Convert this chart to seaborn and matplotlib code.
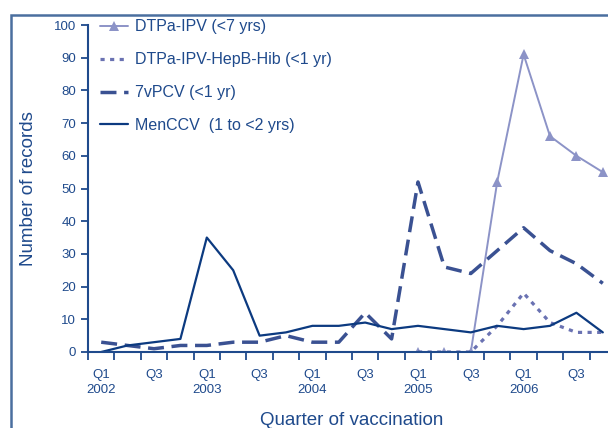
import numpy as np
import pandas as pd
import seaborn as sns
import matplotlib.pyplot as plt
from matplotlib.patches import Rectangle

sns.set_style("ticks")
plt.rcParams['font.family'] = ['Liberation Sans', 'DejaVu Sans']

nan = np.nan
quarters = [f"Q{q} {y}" for y in range(2002, 2007) for q in range(1, 5)]
tick_labels = ["Q1\n2002", "Q3", "Q1\n2003", "Q3", "Q1\n2004", "Q3",
               "Q1\n2005", "Q3", "Q1\n2006", "Q3"]

dtpa_ipv = [nan] * 12 + [0, 0, 0, 52, 91, 66, 60, 55]
dtpa_hexa = [nan] * 12 + [0, 0, 0, 8, 18, 9, 6, 6]
pcv7 = [3, 2, 1, 2, 2, 3, 3, 5, 3, 3, 12, 4, 52, 26, 24, 31, 38, 31, 27, 21]
menccv = [0, 2, 3, 4, 35, 25, 5, 6, 8, 8, 9, 7, 8, 7, 6, 8, 7, 8, 12, 6]

text_col = "#1f4a8c"
idx = np.arange(len(quarters))

fig = plt.figure(figsize=(6.08, 4.28), dpi=100)
ax = fig.add_axes([88 / 608, 1 - 352 / 428, 528 / 608, 327 / 428])

# figure border (cropped on the right and bottom in the original)
fig.patches.append(Rectangle((11 / 608, -0.2), 1.2, 0.2 + 1 - 15 / 428,
                             transform=fig.transFigure, fill=False,
                             edgecolor="#4a6f9f", linewidth=1.8))

sns.lineplot(x=idx, y=dtpa_ipv, ax=ax, color="#8c93c7", linewidth=1.4,
             marker="^", markersize=6.5, markeredgewidth=0, label="DTPa-IPV (<7 yrs)")
sns.lineplot(x=idx, y=dtpa_hexa, ax=ax, color="#6a72b2", linewidth=2.3,
             linestyle=(0, (1.3, 1.7)), label="DTPa-IPV-HepB-Hib (<1 yr)")
sns.lineplot(x=idx, y=pcv7, ax=ax, color="#3a5192", linewidth=2.5,
             linestyle=(0, (4.6, 2.2)), label="7vPCV (<1 yr)")
sns.lineplot(x=idx, y=menccv, ax=ax, color="#0c3a80", linewidth=1.6,
             label="MenCCV  (1 to <2 yrs)")

ax.set_xlim(-0.5, len(quarters) - 0.5)
ax.set_ylim(0, 100)
ax.set_yticks(np.arange(0, 101, 10))
ax.set_xticks(idx[::2])
ax.set_xticklabels(tick_labels, linespacing=1.35)
ax.set_xticks(np.arange(-0.5, len(quarters), 1), minor=True)
ax.tick_params(axis="x", which="major", length=0, pad=12, labelsize=9.5, labelcolor=text_col)
ax.tick_params(axis="x", which="minor", length=6, width=1.3, color=text_col)
ax.tick_params(axis="y", length=5, width=1.3, color=text_col, labelsize=9.5, labelcolor=text_col)

for side in ["left", "bottom"]:
    ax.spines[side].set_color(text_col)
    ax.spines[side].set_linewidth(1.5)
sns.despine(ax=ax)

ax.set_xlabel("Quarter of vaccination", fontsize=13.5, color=text_col, labelpad=12)
ax.set_ylabel("Number of records", fontsize=13.5, color=text_col, labelpad=12)

leg = ax.legend(loc="upper left", bbox_to_anchor=(94 / 608, 1 - 13 / 428),
                bbox_transform=fig.transFigure, frameon=False, fontsize=11.5,
                handlelength=1.75, handletextpad=0.4, labelspacing=1.12,
                borderaxespad=0)
for t in leg.get_texts():
    t.set_color(text_col)

fig.savefig("out.png", dpi=100)
